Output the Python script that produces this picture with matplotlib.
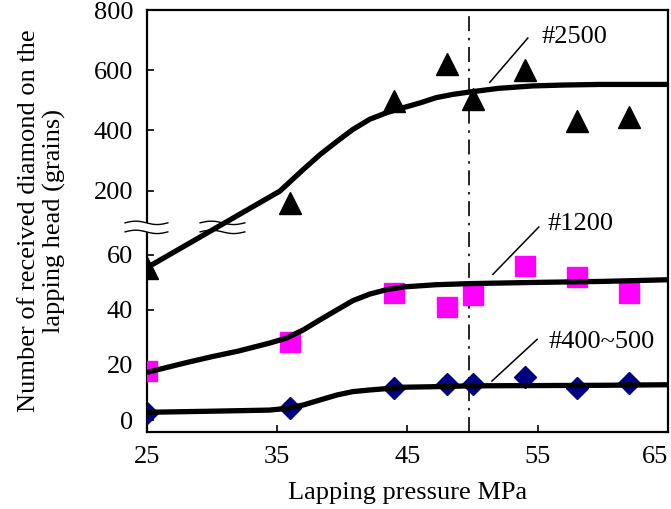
import numpy as np
import matplotlib
matplotlib.use("Agg")
import matplotlib.pyplot as plt
from matplotlib.patches import Rectangle

# --- data ---
pressure = [25, 36, 44, 48, 50, 54, 58, 62]
grains_2500 = [55, 160, 497, 620, 503, 600, 430, 443]
grains_1200 = [17.8, 28.4, 46.2, 41.1, 45.5, 56, 52, 46.2]
grains_400 = [2.7, 4.4, 11.6, 13.1, 13.1, 15.6, 11.6, 13.5]

# fitted curves
fit_2500_x = [25, 35.2, 37.0, 38.3, 39.6, 40.8, 42.1, 43.4, 44.7, 46.0, 47.2, 48.5, 49.8, 52, 54.6, 57, 59.8, 65]
fit_2500_y = [55.3, 198, 270, 320, 364, 403, 437, 459, 476, 492, 509, 520, 528, 540, 548, 551, 553, 553]
fit_1200_x = [25, 28, 30, 32, 34.4, 35.7, 37.0, 38.3, 39.6, 40.8, 42.1, 43.4, 44.7, 47.2, 49.8, 54.4, 60, 65]
fit_1200_y = [17.3, 20.8, 23, 25, 27.9, 29.7, 32.7, 36.4, 40.0, 43.3, 45.7, 47.3, 48.3, 49.1, 49.5, 49.9, 50.3, 50.9]
fit_400_x = [25, 30, 34.4, 35.7, 37.0, 38.3, 39.6, 40.8, 42.1, 44.7, 47.2, 49.8, 55, 60, 65]
fit_400_y = [2.8, 3.2, 3.6, 4.2, 5.45, 7.3, 9.1, 10.3, 10.9, 11.9, 12.1, 12.4, 12.5, 12.6, 12.8]

x_ticks = [25, 35, 45, 55, 65]
y_ticks = [0, 20, 40, 60, 200, 400, 600, 800]
ref_pressure = 49.7

# broken y axis: lower part 0-60, upper part 200-800 (piecewise linear scale)
DATA_KNOTS = [-20.0, 68.4, 97.0, 1000.0]
PIX_KNOTS = [-43.0, 200.1, 210.1, 481.0]


def fwd(v):
    return np.interp(v, DATA_KNOTS, PIX_KNOTS)


def inv(p):
    return np.interp(p, PIX_KNOTS, DATA_KNOTS)


plt.rcParams['font.family'] = ['Liberation Serif', 'DejaVu Serif']
FS = 19

fig = plt.figure(figsize=(6.71, 5.09), dpi=100)
ax = fig.add_axes([0.219, 0.151, 0.7765, 0.829])
ax.set_yscale('function', functions=(fwd, inv))
ax.set_xlim(25, 65)
ax.set_ylim(-4.4, 800)

# markers first, curves on top
ax.plot(pressure, grains_2500, ls='none', marker='^', ms=16, color='black', zorder=3)
ax.plot(pressure, grains_1200, ls='none', marker='s', ms=14, color='#ff00ff', zorder=3)
ax.plot(pressure, grains_400, ls='none', marker='D', ms=11.5, color='#000080', zorder=3)

for fx, fy in [(fit_2500_x, fit_2500_y), (fit_1200_x, fit_1200_y), (fit_400_x, fit_400_y)]:
    ax.plot(fx, fy, color='black', lw=3.8, solid_capstyle='butt', solid_joinstyle='round', zorder=4)

ax.axvline(ref_pressure, color='black', lw=1.2, ls=(0, (9, 4, 1.5, 4)), zorder=2)

# labels with leader lines (axes fraction)
labels = [('#2500', (0.758, 0.936), (0.731, 0.934), (0.658, 0.829)),
          ('#1200', (0.768, 0.493), (0.752, 0.486), (0.664, 0.374)),
          ('#400~500', (0.770, 0.213), (0.749, 0.220), (0.662, 0.121))]
for txt, tpos, p0, p1 in labels:
    ax.text(tpos[0], tpos[1], txt, transform=ax.transAxes, fontsize=FS, va='center', ha='left')
    ax.plot([p0[0], p1[0]], [p0[1], p1[1]], transform=ax.transAxes, color='black', lw=1.1)

# axis break marks
ax.add_patch(Rectangle((-0.01, 0.4746), 0.02, 0.0214, transform=ax.transAxes,
                       facecolor='white', edgecolor='none', clip_on=False, zorder=5))
t = np.linspace(0, 1, 60)
for x0, x1 in [(-0.042, 0.040), (0.102, 0.188)]:
    for yb in (0.4746, 0.496):
        ax.plot(x0 + (x1 - x0) * t, yb + 0.004 * np.sin(2 * np.pi * t), transform=ax.transAxes,
                color='black', lw=1.0, clip_on=False, zorder=6)

ax.set_xticks(x_ticks)
ax.set_yticks(y_ticks)
ax.set_yticklabels([str(v) for v in y_ticks])
ax.minorticks_off()
ax.tick_params(direction='in', length=5, width=1.2, labelsize=FS)
ax.tick_params(axis='y', pad=10)
ax.tick_params(axis='x', pad=10)
# last x label sits inside the figure edge, as in the original
ax.get_xticklabels()[-1].set_horizontalalignment('right')
for s in ax.spines.values():
    s.set_linewidth(1.6)

ax.set_xlabel('Lapping pressure MPa', fontsize=FS, labelpad=10)
ax.set_ylabel('Number of received diamond on the\nlapping head (grains)', fontsize=FS,
              linespacing=1.15, labelpad=20)

fig.savefig('out.png', dpi=100)
